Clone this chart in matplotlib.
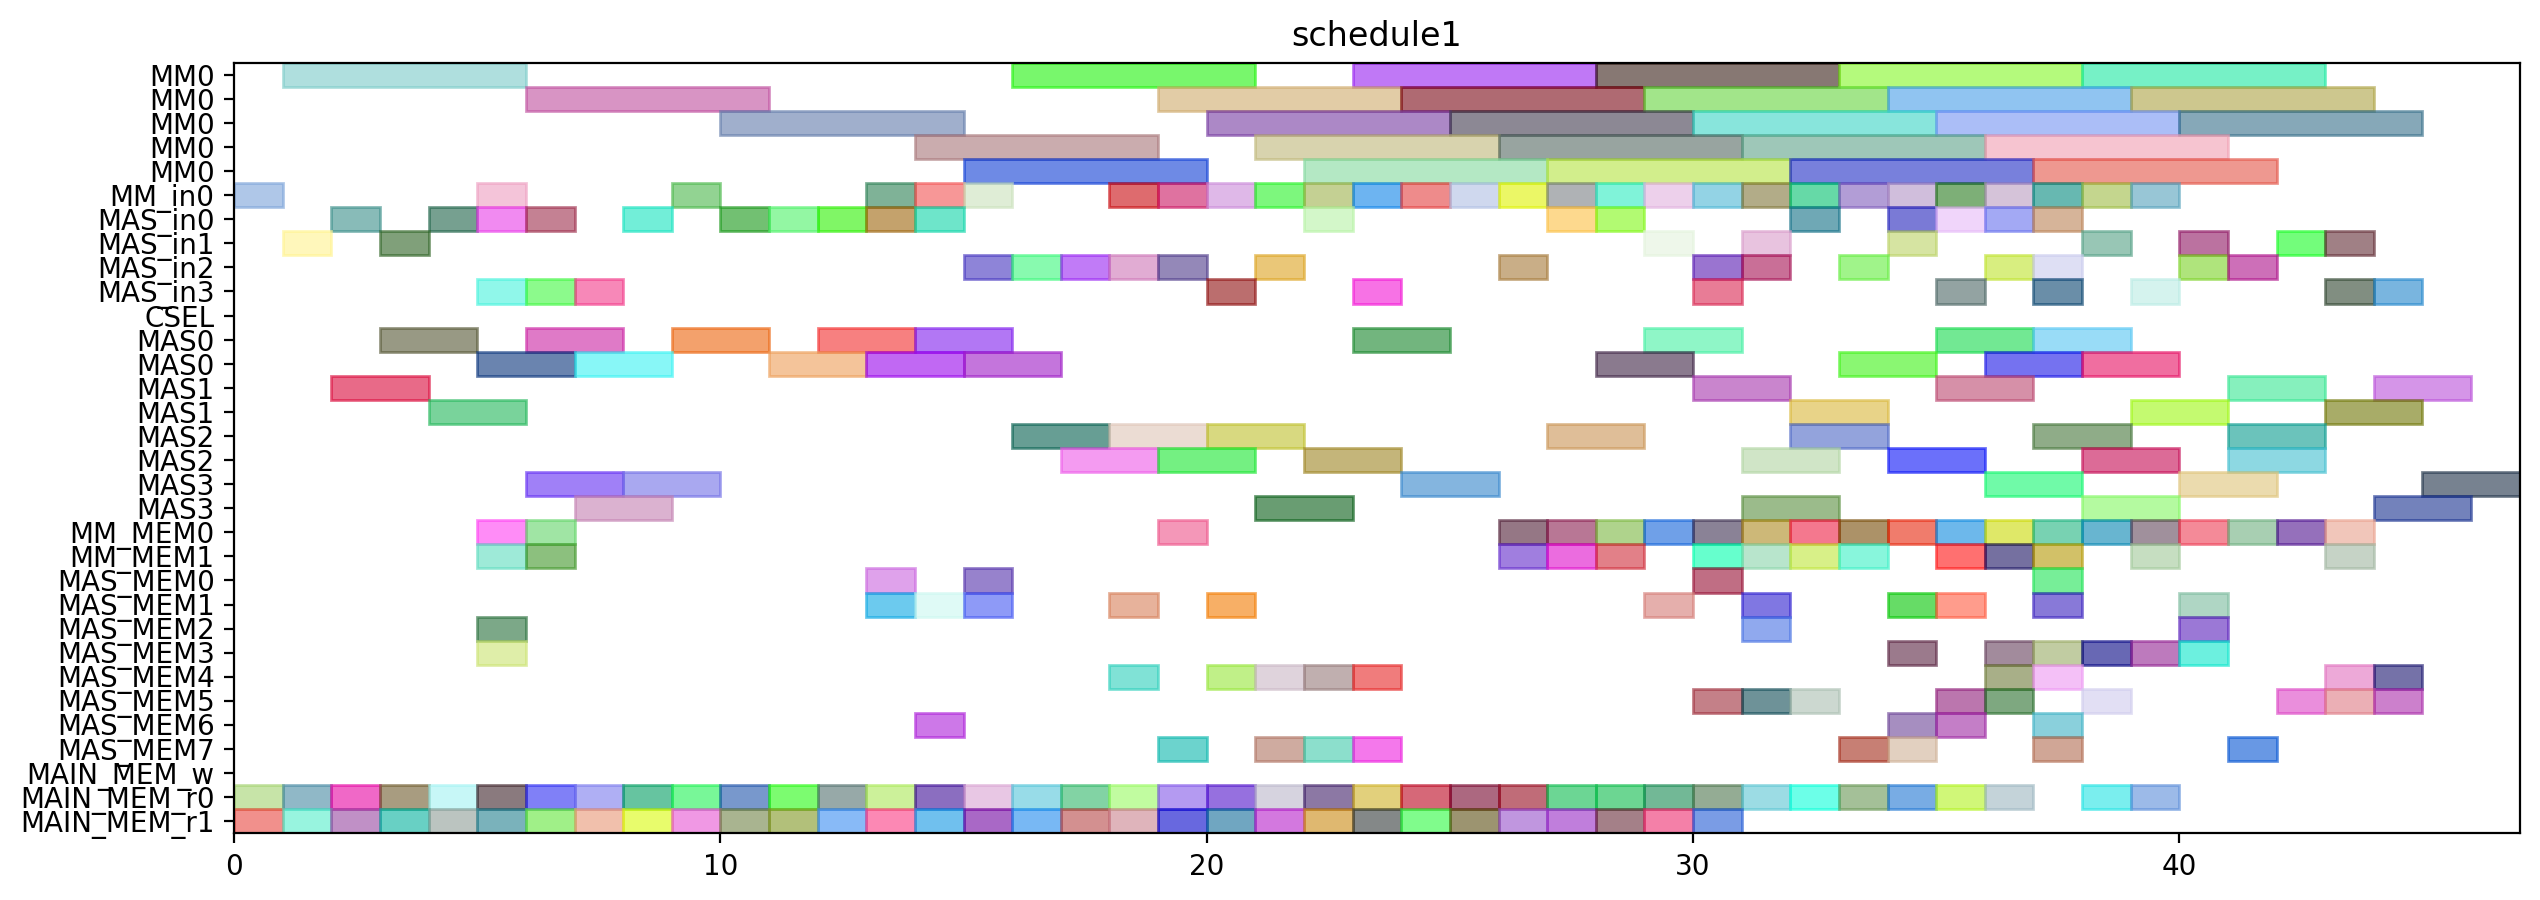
import numpy as np
import matplotlib
matplotlib.use("Agg")
import matplotlib.pyplot as plt
from matplotlib.colors import to_rgb

# row labels, top to bottom
labels = [
    "MM0", "MM0", "MM0", "MM0", "MM0",
    "MM_in0", "MAS_in0", "MAS_in1", "MAS_in2", "MAS_in3", "CSEL",
    "MAS0", "MAS0", "MAS1", "MAS1", "MAS2", "MAS2", "MAS3", "MAS3",
    "MM_MEM0", "MM_MEM1",
    "MAS_MEM0", "MAS_MEM1", "MAS_MEM2", "MAS_MEM3",
    "MAS_MEM4", "MAS_MEM5", "MAS_MEM6", "MAS_MEM7",
    "MAIN_MEM_w", "MAIN_MEM_r0", "MAIN_MEM_r1",
]

# tasks per row: (start, end, colour as it looks on white)
mm0_a = [(1, 6, "#b0e0de"), (16, 21, "#78f86c"), (23, 28, "#c078f6"),
         (28, 33, "#877873"), (33, 38, "#b4fa7c"), (38, 43, "#76f2c6")]
mm0_b = [(6, 11, "#d894c4"), (19, 24, "#e2cca6"), (24, 29, "#b06a72"),
         (29, 34, "#a2e68a"), (34, 39, "#90c4f2"), (39, 44, "#cec88e")]
mm0_c = [(10, 15, "#a0b0cc"), (20, 25, "#ac88c6"), (25, 30, "#8c8894"),
         (30, 35, "#88e6dc"), (35, 40, "#abbff8"), (40, 45, "#86a8b8")]
mm0_d = [(14, 19, "#caacae"), (21, 26, "#d8d4ae"), (26, 31, "#98a4a0"),
         (31, 36, "#9ec8b8"), (36, 41, "#f6c4d0")]
mm0_e = [(15, 20, "#6e8ae6"), (22, 27, "#b4e8c4"), (27, 32, "#d2ee8c"),
         (32, 37, "#7880dc"), (37, 42, "#ee9890")]
mm_in0 = [(0, 1, "#b0c8e8"), (5, 6, "#f5c5d9"), (9, 10, "#92d492"),
          (13, 14, "#7fb297"), (14, 15, "#f89797"), (15, 16, "#dfedd6"),
          (18, 19, "#de6b6e"), (19, 20, "#e072a0"), (20, 21, "#dfb8e8"),
          (21, 22, "#7df77d"), (22, 23, "#c4d093"), (23, 24, "#6db4f2"),
          (24, 25, "#ef8b8b"), (25, 26, "#cfd8ee"), (26, 27, "#ecf766"),
          (27, 28, "#afb3b5"), (28, 29, "#80f3da"), (29, 30, "#edd0ec"),
          (30, 31, "#93d3e6"), (31, 32, "#b3ad88"), (32, 33, "#66daa7"),
          (33, 34, "#b29dd6"), (34, 35, "#d0bfdc"), (35, 36, "#7db077"),
          (36, 37, "#d5c3da"), (37, 38, "#67b9b1"), (38, 39, "#c5d78e"),
          (39, 40, "#98c6d6")]
mas_in0 = [(2, 3, "#88bbb8"), (4, 5, "#76a090"), (5, 6, "#f28af2"),
           (6, 7, "#c48193"), (8, 9, "#72eed8"), (10, 11, "#72c072"),
           (11, 12, "#93f7a3"), (12, 13, "#80f662"), (13, 14, "#c5a26c"),
           (14, 15, "#6ee6cb"), (22, 23, "#d3f8c9"), (27, 28, "#fdd98e"),
           (28, 29, "#b2fa72"), (32, 33, "#6fa8b6"), (34, 35, "#7a7ad6"),
           (35, 36, "#f0d5fb"), (36, 37, "#a3a9f5"), (37, 38, "#d6b499")]
mas_in1 = [(1, 2, "#fff8bb"), (3, 4, "#80a07a"), (29, 30, "#eef8ea"),
           (31, 32, "#e8c3df"), (34, 35, "#d6e4a2"), (38, 39, "#98c6b6"),
           (40, 41, "#bb72a0"), (42, 43, "#73fd7b"), (43, 44, "#a08085")]
mas_in2 = [(15, 16, "#8e84d8"), (16, 17, "#88fbaf"), (17, 18, "#c17bf8"),
           (18, 19, "#e1acd4"), (19, 20, "#9488b8"), (21, 22, "#eac878"),
           (26, 27, "#c9ae87"), (30, 31, "#9a74d0"), (31, 32, "#c96f97"),
           (33, 34, "#a0f48a"), (36, 37, "#d8ee80"), (37, 38, "#dedff4"),
           (40, 41, "#b0e47c"), (41, 42, "#ce6fb8")]
mas_in3 = [(5, 6, "#90f8ea"), (6, 7, "#8cfa8c"), (7, 8, "#f788b8"),
           (20, 21, "#bb6e6e"), (23, 24, "#f772e6"), (30, 31, "#e87c96"),
           (35, 36, "#93a3a2"), (37, 38, "#6a8ea8"), (39, 40, "#d5f3ef"),
           (43, 44, "#818e81"), (44, 45, "#79b6e0")]
csel = []
mas0_a = [(3, 5, "#989984"), (6, 8, "#e07ac8"), (9, 11, "#f3a16c"),
          (12, 14, "#f88080"), (14, 16, "#b277f5"), (23, 25, "#72b67e"),
          (29, 31, "#8ff6c8"), (35, 37, "#72e993"), (37, 39, "#99ddf8")]
mas0_b = [(5, 7, "#6a84b0"), (7, 9, "#88f8f8"), (11, 13, "#f4c49a"),
          (13, 15, "#c268f3"), (15, 17, "#c475dd"), (28, 30, "#8a7a8e"),
          (33, 35, "#8af872"), (36, 38, "#7572f0"), (38, 40, "#f06ea0")]
mas1_a = [(2, 4, "#e96a88"), (30, 32, "#c985ce"), (35, 37, "#d690a8"),
          (41, 43, "#86f0bd"), (44, 46, "#d595e8")]
mas1_b = [(4, 6, "#79d39b"), (32, 34, "#e8d488"), (39, 41, "#c4fa70"),
          (43, 45, "#a8ac68")]
mas2_a = [(16, 18, "#679e94"), (18, 20, "#ecdcd4"), (20, 22, "#d8d980"),
          (27, 29, "#dfbf98"), (32, 34, "#93a3dc"), (37, 39, "#8fac88"),
          (41, 43, "#6bc3bb")]
mas2_b = [(17, 19, "#f59bf2"), (19, 21, "#74f082"), (22, 24, "#c5b57a"),
          (31, 33, "#d0e6c8"), (34, 36, "#6b70fa"), (38, 40, "#dc6b97"),
          (41, 43, "#8dd8e2")]
mas3_a = [(6, 8, "#a080f8"), (8, 10, "#aaa8f0"), (24, 26, "#84b5e0"),
          (36, 38, "#70fba8"), (40, 42, "#ecdbae"), (45, 47, "#778290")]
mas3_b = [(7, 9, "#dbb3d0"), (21, 23, "#699d72"), (31, 33, "#9bbb8b"),
          (38, 40, "#b4fba0"), (44, 46, "#7382bc")]
mm_mem0 = [(5, 6, "#ff8cf8"), (6, 7, "#a0e6a4"), (19, 20, "#f597b8"),
           (26, 27, "#957785"), (27, 28, "#b87795"), (28, 29, "#b0d48c"),
           (29, 30, "#6fa0e8"), (30, 31, "#8a8296"), (31, 32, "#cdb878"),
           (32, 33, "#f5788e"), (33, 34, "#ac9268"), (34, 35, "#f07c6c"),
           (35, 36, "#6db8ec"), (36, 37, "#e0e868"), (37, 38, "#78d2b2"),
           (38, 39, "#68b6d0"), (39, 40, "#a0909c"), (40, 41, "#f48a98"),
           (41, 42, "#a8cfb2"), (42, 43, "#9570bc"), (43, 44, "#f2c6ba")]
mm_mem1 = [(5, 6, "#9eead8"), (6, 7, "#8cc07e"), (26, 27, "#a07ee0"),
           (27, 28, "#ec6ce0"), (28, 29, "#e38088"), (30, 31, "#66ffce"),
           (31, 32, "#b9e6cc"), (32, 33, "#d8f088"), (33, 34, "#88f6dc"),
           (35, 36, "#ff7070"), (36, 37, "#7570a0"), (37, 38, "#d2c268"),
           (39, 40, "#c6dec2"), (43, 44, "#c6d3c6")]
mas_mem0 = [(13, 14, "#dfa2ec"), (15, 16, "#9782cc"), (30, 31, "#c06e84"),
            (37, 38, "#77ee98")]
mas_mem1 = [(13, 14, "#6ccaee"), (14, 15, "#e0faf6"), (15, 16, "#8e9af8"),
            (18, 19, "#e7b29b"), (20, 21, "#f8b064"), (29, 30, "#e6b0ac"),
            (31, 32, "#8077e2"), (34, 35, "#66dd66"), (35, 36, "#ff9c8c"),
            (37, 38, "#8879d8"), (40, 41, "#b0d6c4")]
mas_mem2 = [(5, 6, "#7ca888"), (31, 32, "#90aaee"), (40, 41, "#9b78d6")]
mas_mem3 = [(5, 6, "#e0eeaa"), (34, 35, "#9b7a8c"), (36, 37, "#a28b9c"),
            (37, 38, "#c2cca2"), (38, 39, "#6868b4"), (39, 40, "#bd7abd"),
            (40, 41, "#6cf0e0")]
mas_mem4 = [(18, 19, "#80e2d6"), (20, 21, "#c0f088"), (21, 22, "#dfd4dc"),
            (22, 23, "#c0b0b0"), (23, 24, "#f07c7c"), (36, 37, "#a8b088"),
            (37, 38, "#f4c0f8"), (43, 44, "#edaad8"), (44, 45, "#7572a8")]
mas_mem5 = [(30, 31, "#c48088"), (31, 32, "#6e9298"), (32, 33, "#ccd8d0"),
            (35, 36, "#bb76ae"), (36, 37, "#7ea880"), (38, 39, "#e2e0f4"),
            (42, 43, "#ea8edc"), (43, 44, "#ecb0b6"), (44, 45, "#cc80cc")]
mas_mem6 = [(14, 15, "#ce78e8"), (34, 35, "#a68ec0"), (35, 36, "#c47ec8"),
            (37, 38, "#8ad0dc")]
mas_mem7 = [(19, 20, "#6cd4ce"), (21, 22, "#cfaba0"), (22, 23, "#8ce0cc"),
            (23, 24, "#f478ec"), (33, 34, "#c87f74"), (34, 35, "#e2d0c0"),
            (37, 38, "#d0a696"), (41, 42, "#6898e4")]
main_mem_w = []
main_mem_r0 = [(0, 1, "#c8e4a8"), (1, 2, "#90b8c8"), (2, 3, "#f068c8"),
               (3, 4, "#a89c80"), (4, 5, "#c8f8f8"), (5, 6, "#8a7a7e"),
               (6, 7, "#8080f8"), (7, 8, "#b0b0f4"), (8, 9, "#66c4a0"),
               (9, 10, "#78f898"), (10, 11, "#7898cc"), (11, 12, "#7cfc70"),
               (12, 13, "#97aaa8"), (13, 14, "#ccf29a"), (14, 15, "#8b6ec0"),
               (15, 16, "#e8c8e4"), (16, 17, "#98dce8"), (17, 18, "#82d4a4"),
               (18, 19, "#c2fca0"), (19, 20, "#b49af2"), (20, 21, "#9670e0"),
               (21, 22, "#d6d4e0"), (22, 23, "#8c78a4"), (23, 24, "#e2d07c"),
               (24, 25, "#d66878"), (25, 26, "#ad6880"), (26, 27, "#c06c78"),
               (27, 28, "#6cd694"), (28, 29, "#6cd692"), (29, 30, "#72b896"),
               (30, 31, "#94ac94"), (31, 32, "#9cdce4"), (32, 33, "#6cffe8"),
               (33, 34, "#a4c098"), (34, 35, "#78ace4"), (35, 36, "#d0f878"),
               (36, 37, "#c4d4da"), (38, 39, "#7aeeee"), (39, 40, "#9cbae8")]
main_mem_r1 = [(0, 1, "#f2908c"), (1, 2, "#98f4e0"), (2, 3, "#c090c6"),
               (3, 4, "#68d0c4"), (4, 5, "#bcc4c0"), (5, 6, "#7ab2bc"),
               (6, 7, "#a0f088"), (7, 8, "#f2c0ac"), (8, 9, "#e8fc6c"),
               (9, 10, "#f098e4"), (10, 11, "#aab490"), (11, 12, "#b2c07a"),
               (12, 13, "#88baf8"), (13, 14, "#fc88b4"), (14, 15, "#70c0ee"),
               (15, 16, "#aa68c6"), (16, 17, "#78b8f4"), (17, 18, "#d49090"),
               (18, 19, "#dfb4bc"), (19, 20, "#6868e0"), (20, 21, "#70a6c2"),
               (21, 22, "#d478e0"), (22, 23, "#e0b870"), (23, 24, "#848888"),
               (24, 25, "#80fc8c"), (25, 26, "#9c9470"), (26, 27, "#c096e0"),
               (27, 28, "#c07edc"), (28, 29, "#a48088"), (29, 30, "#f480a8"),
               (30, 31, "#7a9ce6")]

row_tasks = [
    mm0_a, mm0_b, mm0_c, mm0_d, mm0_e,
    mm_in0, mas_in0, mas_in1, mas_in2, mas_in3, csel,
    mas0_a, mas0_b, mas1_a, mas1_b, mas2_a, mas2_b, mas3_a, mas3_b,
    mm_mem0, mm_mem1,
    mas_mem0, mas_mem1, mas_mem2, mas_mem3,
    mas_mem4, mas_mem5, mas_mem6, mas_mem7,
    main_mem_w, main_mem_r0, main_mem_r1,
]

ALPHA = 0.6


def base_colour(seen, alpha=ALPHA):
    # undo the blend with the white background
    rgb = np.array(to_rgb(seen))
    return tuple(np.clip((rgb - (1 - alpha)) / alpha, 0, 1))


def main():
    fig = plt.figure(figsize=(12.7, 4.5), dpi=200)
    ax = fig.add_axes([0.0922, 0.0741, 0.8998, 0.8562])

    for i, tasks in enumerate(row_tasks):
        for start, end, seen in tasks:
            c = base_colour(seen)
            ax.barh(i, end - start, left=start, height=1.0,
                    color=c, edgecolor=c, linewidth=1.0, alpha=ALPHA)

    ax.set_yticks(range(len(labels)))
    ax.set_yticklabels(labels, fontsize=10)
    ax.set_ylim(len(labels) - 0.5, -0.5)
    ax.set_xlim(0, 47)
    ax.tick_params(axis="x", labelsize=10)
    ax.set_title("schedule1", fontsize=12)

    fig.savefig("out.png", dpi=200)


if __name__ == "__main__":
    main()
